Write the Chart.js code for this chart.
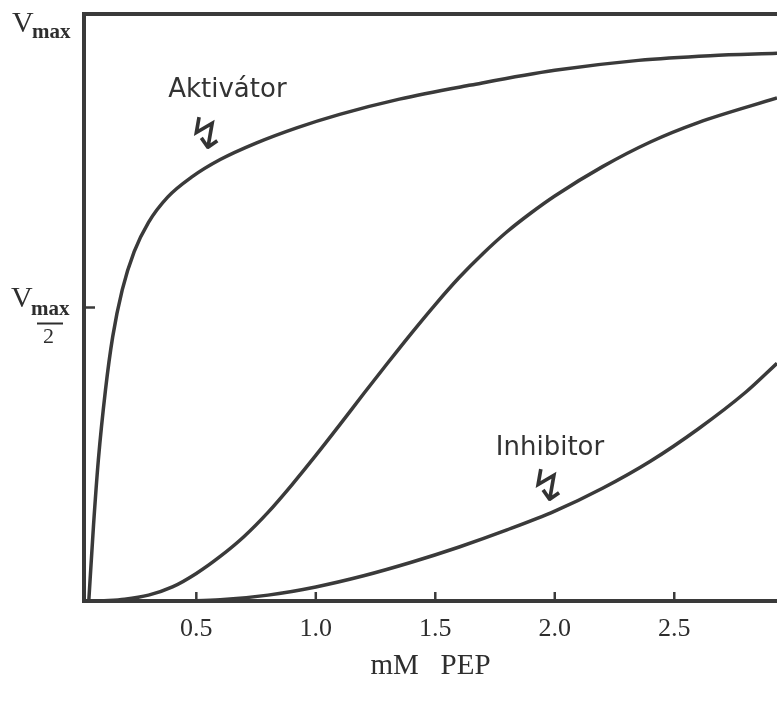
<!DOCTYPE html>
<html>
<head>
<meta charset="utf-8">
<script src="https://cdn.jsdelivr.net/npm/chart.js@4.4.1/dist/chart.umd.min.js"></script>
<style>
  html, body { margin: 0; padding: 0; background: #fff; }
  #wrap { width: 777px; height: 702px; position: relative; }
</style>
</head>
<body>
<div id="wrap"><canvas id="chart"></canvas></div>
<script>
  // mM PEP on x, velocity as a fraction of Vmax on y
  const activatorX = [0.05, 0.07, 0.09, 0.12, 0.15, 0.19, 0.24, 0.30, 0.38, 0.48, 0.60, 0.75, 0.92, 1.10, 1.35, 1.65, 2.00, 2.35, 2.65, 2.93];
  const activatorY = [0.00, 0.13, 0.24, 0.36, 0.45, 0.53, 0.595, 0.645, 0.688, 0.722, 0.752, 0.78, 0.806, 0.829, 0.855, 0.879, 0.904, 0.921, 0.929, 0.933];

  const plainX = [0.10, 0.20, 0.30, 0.40, 0.50, 0.60, 0.70, 0.80, 0.90, 1.00, 1.10, 1.20, 1.30, 1.40, 1.50, 1.60, 1.70, 1.80, 1.90, 2.00, 2.20, 2.40, 2.60, 2.93];
  const plainY = [0.000, 0.003, 0.010, 0.024, 0.047, 0.076, 0.110, 0.151, 0.198, 0.248, 0.300, 0.353, 0.405, 0.456, 0.505, 0.551, 0.592, 0.629, 0.661, 0.690, 0.740, 0.782, 0.815, 0.857];

  const inhibitorX = [0.45, 0.60, 0.80, 1.00, 1.20, 1.40, 1.60, 1.80, 2.00, 2.20, 2.40, 2.60, 2.80, 2.93];
  const inhibitorY = [0.000, 0.002, 0.010, 0.024, 0.043, 0.066, 0.092, 0.121, 0.153, 0.192, 0.238, 0.293, 0.356, 0.405];

  const xTicks = [0.5, 1.0, 1.5, 2.0, 2.5, 3.0];
  const xTickLabels = ["0.5", "1.0", "1.5", "2.0", "2.5", "3.0"];
  const yTicks = [1, 0.5];
  const xTitle = "mM   PEP";

  const curveNotes = [
    { text: "Aktivátor", x: 0.63, y: 0.87, arrowX: 0.54, arrowY: 0.79 },
    { text: "Inhibitor", x: 1.98, y: 0.26, arrowX: 1.97, arrowY: 0.19 }
  ];

  const ink = "#3a3a3a";
  const serif = "'Liberation Serif', 'DejaVu Serif', serif";

  function points(xs, ys) {
    return xs.map((x, i) => ({ x, y: ys[i] }));
  }

  function curve(xs, ys) {
    return {
      data: points(xs, ys),
      borderColor: ink,
      borderWidth: 3.5,
      pointRadius: 0,
      cubicInterpolationMode: "monotone",
      fill: false
    };
  }

  // Vmax labels, inner tick marks, curve notes
  const paperPlugin = {
    id: "paper",
    afterDatasetsDraw(chart) {
      const { ctx, chartArea, scales } = chart;
      const x = scales.x;
      const y = scales.y;
      ctx.save();
      ctx.strokeStyle = ink;
      ctx.lineWidth = 2.5;

      xTicks.forEach((v) => {
        const px = x.getPixelForValue(v);
        if (px > chartArea.right) return;
        ctx.beginPath();
        ctx.moveTo(px, chartArea.bottom);
        ctx.lineTo(px, chartArea.bottom - 9);
        ctx.stroke();
      });

      yTicks.forEach((v) => {
        if (v >= 1) return;
        const py = y.getPixelForValue(v);
        ctx.beginPath();
        ctx.moveTo(chartArea.left, py);
        ctx.lineTo(chartArea.left + 11, py);
        ctx.stroke();
      });

      ctx.fillStyle = "#2e2e2e";
      ctx.textBaseline = "alphabetic";
      ctx.textAlign = "left";
      yTicks.forEach((v) => {
        const py = y.getPixelForValue(v);
        if (v >= 1) {
          ctx.font = "30px " + serif;
          ctx.fillText("V", 12, py + 18);
          ctx.font = "bold 21px " + serif;
          ctx.fillText("max", 32, py + 24);
        } else {
          ctx.font = "30px " + serif;
          ctx.fillText("V", 11, py - 1);
          ctx.font = "bold 21px " + serif;
          ctx.fillText("max", 31, py + 7);
          ctx.fillRect(37, py + 15, 26, 2);
          ctx.font = "22px " + serif;
          ctx.fillText("2", 43, py + 35);
        }
      });

      ctx.textAlign = "center";
      ctx.textBaseline = "middle";
      ctx.fillStyle = "#333";
      curveNotes.forEach((note) => {
        ctx.font = "26px 'DejaVu Sans', sans-serif";
        ctx.fillText(note.text, x.getPixelForValue(note.x), y.getPixelForValue(note.y));
        ctx.font = "44px 'DejaVu Sans', sans-serif";
        ctx.fillText("\u21AF", x.getPixelForValue(note.arrowX), y.getPixelForValue(note.arrowY));
      });
      ctx.restore();
    }
  };

  new Chart(document.getElementById("chart"), {
    type: "line",
    data: {
      datasets: [
        curve(activatorX, activatorY),
        curve(plainX, plainY),
        curve(inhibitorX, inhibitorY)
      ]
    },
    plugins: [paperPlugin],
    options: {
      responsive: true,
      maintainAspectRatio: false,
      animation: false,
      layout: { padding: { top: 14, right: 0, bottom: 0, left: 0 } },
      plugins: {
        legend: { display: false },
        tooltip: { enabled: false }
      },
      scales: {
        x: {
          type: "linear",
          min: 0.03,
          max: 2.93,
          afterFit: (scale) => { scale.height = 101; },
          afterBuildTicks: (scale) => {
            scale.ticks = xTicks.filter((v) => v <= scale.max).map((value) => ({ value }));
          },
          grid: { drawOnChartArea: false, drawTicks: false },
          border: { color: ink, width: 4 },
          ticks: {
            padding: 13,
            color: "#2e2e2e",
            font: { family: serif, size: 26 },
            callback: (value) => xTickLabels[xTicks.indexOf(value)]
          },
          title: {
            display: true,
            text: xTitle,
            color: "#2e2e2e",
            font: { family: serif, size: 29 },
            padding: { top: 0, bottom: 18 }
          }
        },
        top: {
          type: "linear",
          position: "top",
          min: 0.03,
          max: 2.93,
          afterFit: (scale) => { scale.height = 0; },
          grid: { drawOnChartArea: false, drawTicks: false },
          border: { color: ink, width: 4 },
          ticks: { display: false }
        },
        y: {
          min: 0,
          max: 1,
          afterFit: (scale) => { scale.width = 84; },
          grid: { drawOnChartArea: false, drawTicks: false },
          border: { color: ink, width: 4 },
          ticks: { display: false }
        }
      }
    }
  });
</script>
</body>
</html>
